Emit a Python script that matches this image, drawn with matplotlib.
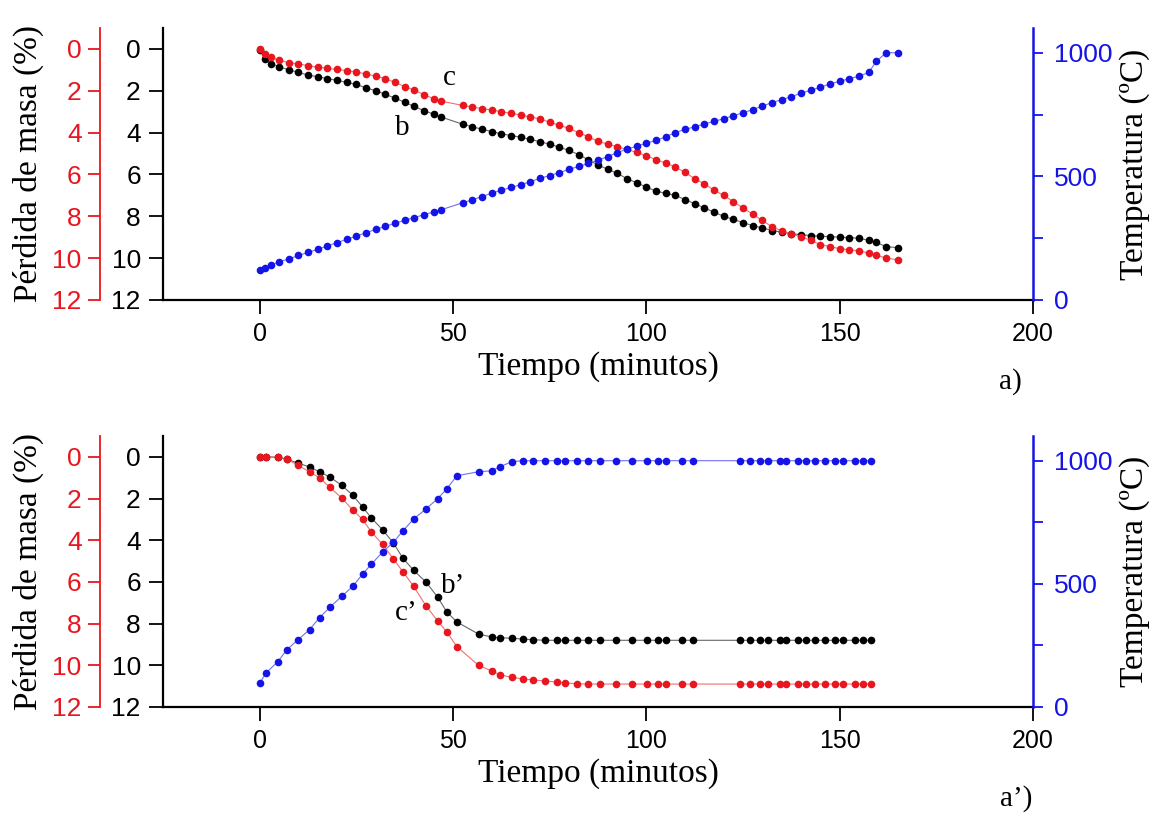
import matplotlib.pyplot as plt

plt.rcParams["font.family"] = "Liberation Sans"

RED = "#e8161e"
BLUE = "#1414e6"
SERIF = "Liberation Serif"

# panel a): heating ramp
t_a = [0, 1.5, 3, 5, 7.5, 10, 12.5, 15, 17.5, 20,
       22.5, 25, 27.5, 30, 32.5, 35, 37.5, 40, 42.5, 45,
       47, 52.5, 55, 57.5, 60, 62.5, 65, 67.5, 70, 72.5,
       75, 77.5, 80, 82.5, 85, 87.5, 90, 92.5, 95, 97.5,
       100, 102.5, 105, 107.5, 110, 112.5, 115, 117.5, 120, 122.5,
       125, 127.5, 130, 132.5, 135, 137.5, 140, 142.5, 145, 147.5,
       150, 152.5, 155, 157.5, 159.5, 162, 165]
b_a = [0.05, 0.5, 0.7, 0.85, 1.0, 1.12, 1.25, 1.33, 1.42, 1.5,
       1.6, 1.7, 1.86, 2.0, 2.17, 2.35, 2.55, 2.75, 2.95, 3.12,
       3.26, 3.6, 3.72, 3.84, 3.95, 4.06, 4.14, 4.22, 4.32, 4.44,
       4.55, 4.7, 4.85, 5.05, 5.3, 5.55, 5.75, 5.95, 6.2, 6.4,
       6.6, 6.8, 6.9, 7.0, 7.2, 7.4, 7.6, 7.8, 8.0, 8.15,
       8.3, 8.45, 8.55, 8.68, 8.76, 8.83, 8.88, 8.92, 8.95, 8.97,
       9.0, 9.02, 9.05, 9.15, 9.25, 9.45, 9.5]
c_a = [0, 0.22, 0.4, 0.55, 0.65, 0.72, 0.8, 0.87, 0.93, 0.98,
       1.04, 1.1, 1.2, 1.3, 1.42, 1.6, 1.8, 1.98, 2.18, 2.38,
       2.5, 2.7, 2.78, 2.85, 2.92, 3.0, 3.08, 3.16, 3.25, 3.35,
       3.5, 3.65, 3.8, 4.0, 4.2, 4.42, 4.55, 4.68, 4.8, 4.95,
       5.1, 5.3, 5.45, 5.65, 5.9, 6.2, 6.45, 6.75, 7.0, 7.3,
       7.6, 7.9, 8.2, 8.5, 8.7, 8.85, 8.97, 9.15, 9.35, 9.45,
       9.55, 9.6, 9.65, 9.75, 9.85, 10.0, 10.08]
temp_a = [120, 130, 140, 155, 165, 180, 192, 205, 218, 232,
          245, 258, 272, 285, 298, 310, 322, 333, 345, 356,
          365, 393, 405, 418, 432, 444, 455, 466, 478, 492,
          503, 515, 528, 540, 552, 565, 580, 596, 610, 622,
          634, 645, 660, 677, 690, 700, 712, 722, 733, 745,
          757, 770, 784, 798, 810, 822, 836, 848, 860, 874,
          884, 895, 905, 920, 965, 1000, 1000]

# panel a'): fast ramp + isotherm
t_b = [0, 1.7, 4.7, 7, 9.9, 12.9, 15.5, 18.1, 21.2, 24.1,
       26.6, 28.9, 31.8, 34.6, 37, 39.8, 43, 46, 48.4, 51,
       56.6, 60, 62.1, 65.2, 68, 70.6, 73.7, 76.8, 79, 82,
       85, 88, 92.2, 96.2, 100.1, 103, 105, 109.1, 112.1, 124.2,
       126.7, 129.4, 131.4, 134.5, 136.2, 139.2, 141.4, 143.6, 146.2, 148.8,
       150.9, 154, 156.1, 158.2]
b_b = [0, 0, 0.02, 0.1, 0.3, 0.48, 0.72, 0.96, 1.36, 1.84,
       2.4, 2.93, 3.5, 4.13, 4.85, 5.44, 6.0, 6.72, 7.44, 7.92,
       8.5, 8.64, 8.68, 8.7, 8.74, 8.77, 8.8, 8.8, 8.8, 8.8,
       8.8, 8.8, 8.8, 8.8, 8.8, 8.8, 8.8, 8.8, 8.8, 8.8,
       8.8, 8.8, 8.8, 8.8, 8.8, 8.8, 8.8, 8.8, 8.8, 8.8,
       8.8, 8.8, 8.8, 8.8]
c_b = [0, 0, 0, 0.1, 0.4, 0.72, 1.0, 1.45, 1.97, 2.55,
       3.0, 3.6, 4.2, 4.9, 5.5, 6.2, 7.14, 7.86, 8.4, 9.1,
       10.0, 10.27, 10.45, 10.58, 10.65, 10.7, 10.75, 10.8, 10.85, 10.88,
       10.9, 10.9, 10.9, 10.9, 10.9, 10.9, 10.9, 10.9, 10.9, 10.9,
       10.9, 10.9, 10.9, 10.9, 10.9, 10.9, 10.9, 10.9, 10.9, 10.9,
       10.9, 10.9, 10.9, 10.9]
temp_b = [97, 139, 184, 232, 273, 314, 363, 404, 449, 490,
          539, 580, 629, 669, 714, 763, 804, 845, 886, 939,
          955, 959, 975, 996, 1000, 1000, 1000, 1000, 1000, 1000,
          1000, 1000, 1000, 1000, 1000, 1000, 1000, 1000, 1000, 1000,
          1000, 1000, 1000, 1000, 1000, 1000, 1000, 1000, 1000, 1000,
          1000, 1000, 1000, 1000]

x_ticks = [0, 50, 100, 150, 200]
mass_ticks = [0, 2, 4, 6, 8, 10, 12]
temp_ticks = [0, 500, 1000]

fig = plt.figure(figsize=(11.6, 8.16), dpi=100)


def panel(rect, t, b, c, temp, tags):
    ax = fig.add_axes(rect)
    ax_r = ax.twinx()
    ax_t = ax.twinx()

    ax.plot(t, b, "-", color="0.4", lw=0.8, zorder=1)
    ax.plot(t, b, "o", color="black", ms=5.5, mec="none", zorder=2)
    ax_r.plot(t, c, "-", color="#f07070", lw=0.8, zorder=1)
    ax_r.plot(t, c, "o", color=RED, ms=5.5, mec="none", zorder=2)
    ax_t.plot(t, temp, "-", color="#7070f0", lw=0.8, zorder=1)
    ax_t.plot(t, temp, "o", color=BLUE, ms=5.5, mec="none", zorder=2)

    ax.set_xlim(-25, 200)
    ax.set_xticks(x_ticks)
    for a in (ax, ax_r):
        a.set_ylim(12, -1)
        a.set_yticks(mass_ticks)
    ax_t.set_ylim(0, 1100)
    ax_t.set_yticks(temp_ticks)
    ax_t.set_yticks([250, 750], minor=True)

    # main black axis
    ax.spines["top"].set_visible(False)
    ax.spines["right"].set_visible(False)
    for s in ("left", "bottom"):
        ax.spines[s].set_linewidth(1.6)
    ax.tick_params(direction="out", length=10, width=1.3, labelsize=18, pad=6)
    ax.tick_params(axis="y", labelsize=19)

    # red offset axis (63 px left of the main spine)
    for s in ("top", "right", "bottom"):
        ax_r.spines[s].set_visible(False)
    ax_r.spines["left"].set_visible(True)
    ax_r.spines["left"].set_position(("outward", 45.5))
    ax_r.spines["left"].set_color(RED)
    ax_r.spines["left"].set_linewidth(1.3)
    ax_r.yaxis.set_ticks_position("left")
    ax_r.yaxis.set_label_position("left")
    ax_r.tick_params(axis="y", colors=RED, direction="out", length=9,
                     width=1.3, labelsize=19, pad=4)

    # blue temperature axis
    for s in ("top", "left", "bottom"):
        ax_t.spines[s].set_visible(False)
    ax_t.spines["right"].set_color(BLUE)
    ax_t.spines["right"].set_linewidth(1.8)
    ax_t.tick_params(axis="y", which="both", colors=BLUE, direction="out",
                     length=7, width=1.3, labelsize=19, pad=8)

    ax.set_xlabel("Tiempo (minutos)", family=SERIF, fontsize=24)
    ax.xaxis.set_label_coords(0.5, -0.19)
    ax_r.set_ylabel("Pérdida de masa (%)", family=SERIF, fontsize=24)
    ax_r.yaxis.set_label_coords(-0.137, 0.5)
    ax_t.set_ylabel("Temperatura (ºC)", family=SERIF, fontsize=24)
    ax_t.yaxis.set_label_coords(1.099, 0.5)

    for txt, xy in tags:
        ax.text(xy[0], xy[1], txt, family=SERIF, fontsize=21,
                ha="center", va="center", zorder=5)
    return ax


panel([0.1405, 0.6324, 0.75, 0.3333], t_a, b_a, c_a, temp_a,
      [("c", (49, 1.4)), ("b", (37, 3.8))])
panel([0.1405, 0.1336, 0.75, 0.332], t_b, b_b, c_b, temp_b,
      [("b’", (50, 6.2)), ("c’", (38, 7.5))])

fig.text(0.871, 0.532, "a)", family=SERIF, fontsize=21, ha="center", va="center")
fig.text(0.876, 0.022, "a’)", family=SERIF, fontsize=21, ha="center", va="center")

fig.savefig("out.png", dpi=100)
